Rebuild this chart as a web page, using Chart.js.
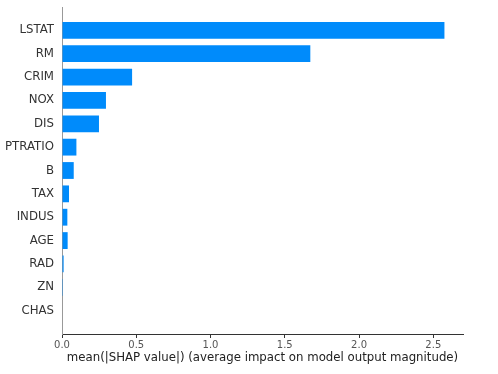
<!DOCTYPE html>
<html>
<head>
<meta charset="utf-8">
<script src="https://cdn.jsdelivr.net/npm/chart.js@4/dist/chart.umd.min.js"></script>
<style>
  html, body { margin: 0; padding: 0; background: #fff; }
  #wrap { width: 498px; height: 374px; }
</style>
</head>
<body>
<div id="wrap"><canvas id="graph" width="498" height="374"></canvas></div>
<script>
// features, top to bottom
const features = ['LSTAT', 'RM', 'CRIM', 'NOX', 'DIS', 'PTRATIO', 'B', 'TAX', 'INDUS', 'AGE', 'RAD', 'ZN', 'CHAS'];
// mean(|SHAP value|)
const meanShap = [2.575, 1.672, 0.472, 0.296, 0.249, 0.097, 0.079, 0.047, 0.036, 0.038, 0.011, 0.001, 0.0];
const xTicks = [0, 0.5, 1.0, 1.5, 2.0, 2.5];

const barColor = 'rgb(0, 139, 251)';
const fontFamily = "'DejaVu Sans', sans-serif";

const points = features.map((name, i) => ({ x: meanShap[i], y: i }));

const ctx = document.getElementById('graph').getContext('2d');
const chart = new Chart(ctx, {
    type: 'bar',
    data: {
        datasets: [{
            label: 'mean(|SHAP value|)',
            data: points,
            backgroundColor: barColor,
            borderWidth: 0,
            categoryPercentage: 1,
            barPercentage: 0.72
        }]
    },
    options: {
        indexAxis: 'y',
        responsive: false,
        animation: false,
        layout: { padding: { top: 7, right: 35, bottom: 0, left: 0 } },
        plugins: {
            legend: { display: false },
            tooltip: { enabled: false }
        },
        scales: {
            x: {
                type: 'linear',
                min: 0,
                max: 2.7,
                afterFit: scale => { scale.height = 40; },
                afterBuildTicks: scale => { scale.ticks = xTicks.map(v => ({ value: v })); },
                grid: { drawOnChartArea: false, drawTicks: true, tickLength: 4, color: '#333' },
                border: { display: true, color: '#333', width: 1 },
                ticks: {
                    padding: 1,
                    color: '#555',
                    font: { family: fontFamily, size: 10 },
                    callback: v => v.toFixed(1)
                },
                title: {
                    display: true,
                    text: 'mean(|SHAP value|) (average impact on model output magnitude)',
                    color: '#222',
                    font: { family: fontFamily, size: 11.75 },
                    padding: { top: 0, bottom: 9 }
                }
            },
            y: {
                type: 'linear',
                reverse: true,
                offset: false,
                min: -1,
                max: features.length,
                afterFit: scale => {
                    scale.width = 62;
                    scale.paddingTop = 0;
                    scale.paddingBottom = 0;
                },
                afterBuildTicks: scale => { scale.ticks = features.map((f, i) => ({ value: i })); },
                grid: { display: false, drawTicks: false, offset: false },
                border: { display: true, color: '#999', width: 1 },
                ticks: {
                    padding: 8,
                    color: '#333',
                    font: { family: fontFamily, size: 11.75 },
                    callback: v => features[v] || ''
                }
            }
        }
    }
});
</script>
</body>
</html>
